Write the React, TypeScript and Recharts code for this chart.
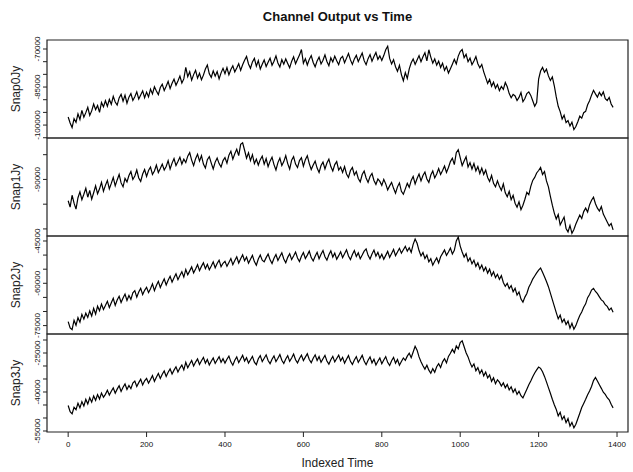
import React from "react";
import { LineChart, Line, XAxis, YAxis, ReferenceArea } from "recharts";

// indexed time, every 5th sample
const TIME = [
  0, 5, 10, 15, 20, 25, 30, 35, 40, 45, 50, 55, 60, 65, 70, 75, 80, 85, 90, 95,
  100, 105, 110, 115, 120, 125, 130, 135, 140, 145, 150, 155, 160, 165, 170, 175, 180, 185, 190, 195,
  200, 205, 210, 215, 220, 225, 230, 235, 240, 245, 250, 255, 260, 265, 270, 275, 280, 285, 290, 295,
  300, 305, 310, 315, 320, 325, 330, 335, 340, 345, 350, 355, 360, 365, 370, 375, 380, 385, 390, 395,
  400, 405, 410, 415, 420, 425, 430, 435, 440, 445, 450, 455, 460, 465, 470, 475, 480, 485, 490, 495,
  500, 505, 510, 515, 520, 525, 530, 535, 540, 545, 550, 555, 560, 565, 570, 575, 580, 585, 590, 595,
  600, 605, 610, 615, 620, 625, 630, 635, 640, 645, 650, 655, 660, 665, 670, 675, 680, 685, 690, 695,
  700, 705, 710, 715, 720, 725, 730, 735, 740, 745, 750, 755, 760, 765, 770, 775, 780, 785, 790, 795,
  800, 805, 810, 815, 820, 825, 830, 835, 840, 845, 850, 855, 860, 865, 870, 875, 880, 885, 890, 895,
  900, 905, 910, 915, 920, 925, 930, 935, 940, 945, 950, 955, 960, 965, 970, 975, 980, 985, 990, 995,
  1000, 1005, 1010, 1015, 1020, 1025, 1030, 1035, 1040, 1045, 1050, 1055, 1060, 1065, 1070, 1075, 1080, 1085, 1090, 1095,
  1100, 1105, 1110, 1115, 1120, 1125, 1130, 1135, 1140, 1145, 1150, 1155, 1160, 1165, 1170, 1175, 1180, 1185, 1190, 1195,
  1200, 1205, 1210, 1215, 1220, 1225, 1230, 1235, 1240, 1245, 1250, 1255, 1260, 1265, 1270, 1275, 1280, 1285, 1290, 1295,
  1300, 1305, 1310, 1315, 1320, 1325, 1330, 1335, 1340, 1345, 1350, 1355, 1360, 1365, 1370, 1375, 1380, 1385, 1390,
];

// channel outputs, in thousands of Jy
const SNAP0_K = [
  -96.8, -99.2, -101.0, -97.5, -98.9, -95.6, -97.8, -94.2, -96.9, -95.1, -93.0, -96.2, -94.4, -91.7, -93.9, -92.3, -95.0, -91.1, -92.8, -90.4,
  -92.6, -89.9, -91.8, -88.7, -90.9, -92.1, -89.3, -87.9, -90.6, -88.2, -91.4, -89.0, -87.6, -90.3, -88.8, -86.9, -89.7, -88.1, -86.5, -89.2,
  -87.0, -88.9, -85.8, -87.7, -84.9, -86.6, -88.0, -85.2, -83.9, -86.4, -84.7, -82.8, -85.6, -83.5, -81.9, -84.3, -82.6, -80.7, -83.4, -81.8,
  -77.2, -80.9, -79.0, -82.3, -80.1, -78.4, -81.5, -79.6, -82.1, -80.3, -77.9, -76.3, -79.8, -81.2, -78.6, -80.7, -78.9, -81.8, -79.4, -77.6,
  -79.7, -77.3, -80.2, -78.1, -76.6, -79.0, -77.5, -75.8, -78.4, -76.2, -74.4, -72.9, -75.9, -77.6, -75.1, -73.7, -76.8, -74.6, -77.9, -76.0,
  -74.3, -76.9, -75.2, -73.6, -76.4, -74.8, -72.7, -75.5, -77.1, -74.2, -76.0, -73.9, -75.7, -77.4, -74.9, -73.1, -75.8, -74.0, -72.4, -70.2,
  -75.6, -73.8, -76.3, -74.1, -72.6, -75.3, -77.0, -74.7, -73.2, -75.9, -74.4, -72.3, -74.9, -76.6, -73.5, -75.1, -72.8, -74.6, -76.2, -73.7,
  -72.9, -75.4, -73.6, -71.8, -74.3, -76.1, -73.9, -72.5, -75.0, -73.3, -71.6, -74.6, -76.2, -73.8, -72.2, -74.8, -73.0, -71.4, -74.1, -72.7,
  -74.5, -72.6, -70.3, -68.9, -73.7, -75.9, -74.2, -77.0, -78.8, -76.4, -80.1, -82.5, -79.3, -81.6, -77.8, -75.4, -73.9, -76.1, -74.3, -72.6,
  -75.0, -73.1, -71.5, -74.7, -70.3, -73.2, -75.6, -73.9, -76.4, -74.8, -77.3, -75.6, -78.4, -76.9, -79.5, -77.8, -76.0, -74.1, -75.9, -72.8,
  -71.0, -70.2, -73.4, -72.1, -75.0, -73.6, -76.2, -74.7, -73.0, -75.8, -77.4, -76.1, -79.0, -81.3, -83.6, -82.0, -84.7, -83.1, -85.5, -84.0,
  -86.4, -84.8, -85.9, -83.2, -84.9, -87.6, -89.2, -87.9, -88.5, -90.3, -89.1, -87.2, -90.8, -89.5, -87.6, -86.9, -88.3, -90.4, -92.6, -91.1,
  -81.9, -78.7, -77.3, -79.2, -78.0, -80.6, -82.4, -81.0, -84.5, -88.9, -92.6, -94.7, -97.6, -96.1, -99.0, -98.2, -100.4, -98.9, -101.8, -100.6,
  -98.7, -96.5, -97.3, -95.1, -94.6, -92.0, -90.4, -88.2, -86.3, -87.7, -89.0, -87.1, -88.4, -86.9, -89.6, -90.3, -89.1, -91.7, -93.0,
];

const SNAP1_K = [
  -94.3, -95.6, -93.2, -94.8, -96.0, -93.7, -92.5, -94.1, -93.0, -91.8, -93.6, -92.2, -94.0, -92.7, -91.3, -92.9, -91.9, -90.6, -92.4, -91.2,
  -90.2, -91.9, -90.8, -89.6, -91.3, -90.1, -89.0, -90.7, -91.5, -89.8, -90.5, -89.2, -88.4, -90.0, -89.3, -88.1, -89.7, -90.4, -88.9, -88.0,
  -89.4, -88.2, -87.5, -89.0, -88.3, -87.1, -88.6, -87.8, -86.9, -88.1, -87.4, -86.2, -87.9, -86.7, -85.8, -87.2, -86.4, -85.5, -86.9, -85.9,
  -86.6, -85.3, -84.6, -86.1, -87.2, -85.8, -84.9, -86.3, -85.2, -86.9, -87.7, -86.0, -85.4, -86.7, -87.9, -86.5, -85.7, -86.8, -87.5, -86.2,
  -85.6, -86.7, -85.1, -84.3, -85.9, -84.8, -83.9, -85.2, -82.9, -82.6, -84.1, -85.7, -84.6, -86.2, -85.0, -86.8, -85.9, -87.1, -86.0, -85.3,
  -86.9, -85.8, -87.4, -86.3, -85.5, -87.0, -88.1, -86.6, -85.7, -87.2, -86.4, -85.2, -86.8, -87.9, -86.1, -85.4, -86.9, -87.6, -86.2, -85.6,
  -87.3, -86.0, -85.2, -86.8, -88.0, -87.1, -86.3, -87.7, -88.6, -87.2, -86.5, -87.9, -86.7, -85.9, -87.4, -88.3, -87.0, -86.4, -88.1, -87.5,
  -88.6, -87.4, -88.9, -89.6, -88.2, -87.6, -89.1, -88.4, -89.8, -90.5, -89.0, -88.3, -89.7, -90.6, -89.4, -88.8, -90.2, -91.0, -89.9, -90.4,
  -91.2, -90.0, -90.9, -92.1, -91.3, -90.6, -91.8, -92.8, -91.5, -90.7, -92.4, -93.0, -91.9, -90.8, -91.6, -90.2, -89.4, -90.9, -89.8, -88.9,
  -90.3, -89.2, -88.5, -89.9, -90.6, -89.1, -88.3, -89.7, -88.9, -87.8, -89.0, -88.2, -87.3, -88.6, -87.6, -86.4, -85.7, -87.0, -84.6, -84.0,
  -85.6, -87.2, -86.3, -85.4, -87.5, -86.6, -87.9, -86.8, -88.3, -87.4, -88.8, -87.7, -89.0, -88.1, -89.6, -90.4, -89.2, -90.8, -91.5, -90.3,
  -91.4, -92.2, -90.9, -92.7, -93.5, -92.4, -94.1, -93.2, -94.8, -95.6, -94.5, -96.1, -95.2, -94.0, -92.6, -93.1, -91.4, -90.2, -89.6, -88.7,
  -88.2, -87.6, -89.0, -88.4, -90.3, -91.5, -93.4, -95.2, -96.8, -98.0, -97.1, -99.2, -98.4, -97.6, -99.9, -100.6, -99.3, -100.9, -100.1, -99.0,
  -98.1, -97.2, -97.9, -96.5, -95.8, -96.6, -95.1, -94.2, -93.6, -94.9, -95.8, -96.4, -95.5, -97.0, -97.8, -98.6, -99.4, -98.9, -100.2,
];

const SNAP2_K = [
  -73.6, -75.8, -76.4, -73.1, -74.9, -72.2, -73.8, -71.0, -72.7, -70.6, -72.1, -69.8, -71.6, -68.9, -70.9, -68.1, -69.7, -67.4, -69.3, -67.9,
  -66.4, -68.6, -66.9, -65.3, -67.8, -65.9, -64.6, -66.8, -65.2, -63.8, -66.1, -64.3, -65.7, -63.4, -62.6, -64.9, -63.1, -61.8, -64.0, -62.5,
  -61.4, -63.3, -61.9, -60.2, -62.6, -60.8, -59.3, -61.5, -59.9, -58.4, -60.6, -58.9, -57.5, -59.6, -58.0, -56.6, -58.7, -57.2, -55.9, -57.8,
  -55.1, -57.0, -55.6, -54.2, -56.3, -54.9, -53.4, -55.5, -54.0, -52.7, -54.8, -53.3, -55.2, -53.9, -52.4, -54.5, -53.0, -51.8, -54.1, -52.9,
  -52.2, -54.0, -52.6, -51.2, -53.4, -51.9, -50.6, -52.8, -51.3, -49.9, -52.0, -50.7, -52.9, -51.5, -50.1, -52.3, -53.6, -51.4, -50.0, -51.8,
  -52.4, -50.9, -49.6, -51.7, -53.0, -51.1, -49.8, -51.9, -50.5, -49.2, -51.4, -52.7, -50.8, -49.5, -51.6, -50.3, -48.9, -51.0, -52.3, -50.4,
  -49.1, -51.2, -50.0, -48.6, -50.9, -52.1, -50.4, -49.0, -51.3, -49.7, -48.4, -50.6, -51.8, -49.9, -48.5, -50.7, -49.3, -51.5, -50.2, -48.8,
  -50.9, -49.5, -48.1, -50.3, -51.6, -49.8, -48.4, -50.5, -49.2, -51.3, -50.0, -48.6, -47.8, -50.1, -51.4, -49.6, -48.2, -50.4, -49.0, -51.1,
  -49.7, -51.5, -50.1, -48.7, -50.8, -49.4, -48.0, -50.2, -48.9, -47.6, -49.3, -48.1, -46.9, -48.6, -47.4, -49.0, -46.2, -44.3, -45.8, -48.4,
  -50.3, -49.1, -51.2, -50.0, -52.4, -51.3, -53.6, -52.2, -51.0, -52.8, -50.6, -49.4, -48.2, -50.1, -48.9, -47.5, -49.6, -48.3, -45.0, -43.6,
  -46.8, -48.9, -50.7, -49.5, -52.2, -51.0, -53.1, -51.8, -54.0, -52.7, -54.9, -53.5, -55.6, -54.3, -56.4, -55.0, -57.3, -55.9, -58.0, -56.8,
  -58.6, -57.3, -59.7, -61.1, -60.0, -61.9, -60.8, -63.0, -61.8, -64.2, -63.1, -65.6, -66.7, -64.9, -63.6, -61.4, -60.1, -58.5, -57.4, -56.3,
  -55.3, -54.6, -56.1, -57.7, -59.4, -61.2, -63.5, -65.8, -68.1, -70.4, -72.6, -71.3, -73.8, -72.7, -74.6, -73.4, -75.9, -74.2, -76.3, -75.0,
  -73.1, -71.4, -70.2, -68.5, -67.3, -65.1, -64.0, -62.4, -61.8, -62.9, -63.7, -64.8, -65.9, -66.4, -67.6, -68.2, -69.5, -68.8, -70.3,
];

const SNAP3_K = [
  -45.2, -47.6, -48.4, -45.9, -46.8, -44.3, -46.1, -43.7, -45.4, -42.8, -44.6, -42.2, -43.9, -41.5, -43.2, -41.0, -42.7, -40.4, -42.0, -40.9,
  -39.3, -41.2, -39.7, -38.4, -40.5, -38.9, -37.6, -39.8, -38.2, -36.9, -39.0, -37.5, -38.7, -36.6, -35.8, -37.9, -36.4, -35.1, -37.3, -35.7,
  -34.8, -36.6, -35.2, -33.7, -35.9, -34.3, -32.9, -34.8, -33.2, -31.9, -34.0, -32.4, -31.1, -33.1, -31.6, -30.3, -32.3, -30.8, -29.6, -31.5,
  -28.6, -30.7, -29.2, -27.9, -30.0, -28.5, -27.3, -29.4, -28.0, -26.7, -28.9, -27.5, -29.6, -28.2, -26.9, -29.0, -27.7, -26.4, -28.6, -27.2,
  -28.9, -27.4, -26.2, -28.4, -29.7, -27.8, -26.5, -28.7, -27.3, -25.9, -28.1, -26.8, -28.9, -27.6, -26.3, -28.5, -29.5, -27.2, -26.0, -28.3,
  -27.0, -25.7, -27.9, -29.1, -27.4, -26.1, -28.3, -27.0, -25.6, -27.8, -29.0, -27.3, -26.0, -28.2, -26.9, -25.4, -27.6, -28.8, -27.1, -25.8,
  -27.9, -26.6, -25.3, -27.5, -28.7, -27.0, -25.7, -27.9, -26.4, -28.6, -27.2, -25.9, -28.1, -29.3, -27.6, -26.3, -28.4, -27.1, -25.8, -28.0,
  -26.7, -28.9, -27.4, -26.0, -28.2, -29.4, -27.7, -26.4, -28.6, -27.3, -25.9, -28.1, -29.5, -27.8, -26.5, -28.8, -27.4, -29.6, -28.2, -26.9,
  -29.1, -27.7, -26.4, -28.6, -29.8, -28.0, -26.7, -28.9, -27.5, -29.7, -28.3, -26.9, -27.8, -26.2, -25.1, -26.8, -24.6, -22.4, -23.9, -26.5,
  -28.4, -29.9, -31.2, -29.7, -31.6, -32.8, -31.0, -32.4, -30.3, -29.1, -30.6, -28.4, -27.2, -28.8, -26.3, -25.1, -23.6, -24.9, -22.3, -23.4,
  -21.0, -20.3, -22.6, -24.9, -26.5, -28.7, -30.4, -29.2, -31.8, -30.6, -32.9, -31.5, -33.8, -32.3, -34.6, -33.4, -35.9, -34.5, -36.8, -35.3,
  -36.2, -37.7, -36.5, -38.4, -37.1, -39.2, -38.0, -40.1, -38.8, -40.9, -39.7, -41.4, -42.3, -40.6, -38.9, -37.2, -35.8, -34.1, -32.7, -31.5,
  -30.4, -30.9, -32.2, -34.0, -36.1, -38.3, -40.5, -42.8, -44.9, -46.7, -49.2, -47.8, -50.6, -49.3, -51.8, -50.2, -53.1, -51.7, -53.8, -52.4,
  -50.3, -48.2, -46.0, -44.4, -42.8, -41.1, -39.6, -37.9, -35.6, -34.4, -35.8, -37.2, -38.6, -40.1, -40.9, -42.2, -43.0, -44.7, -46.1,
];

const X_TICKS = [0, 200, 400, 600, 800, 1000, 1200, 1400];
const X_DOMAIN: [number, number] = [-54, 1428];

const SERIES_NAMES = ["Snap0Jy", "Snap1Jy", "Snap2Jy", "Snap3Jy"];
const SERIES_K = [SNAP0_K, SNAP1_K, SNAP2_K, SNAP3_K];
const Y_DOMAINS: [number, number][] = [
  [-105100, -66450],
  [-101430, -81630],
  [-77980, -43230],
  [-55390, -17690],
];
const Y_TICKS = [
  [-105000, -100000, -95000, -90000, -85000, -80000, -75000, -70000],
  [-100000, -95000, -90000, -85000],
  [-75000, -70000, -65000, -60000, -55000, -50000, -45000],
  [-55000, -50000, -45000, -40000, -35000, -30000, -25000, -20000],
];
const Y_LABELS = [
  [-100000, -85000, -70000],
  [-90000],
  [-75000, -60000, -45000],
  [-55000, -40000, -25000],
];

const FONT = "'Liberation Sans', Arial, Helvetica, sans-serif";
const PANEL_TOP = [40, 138, 236, 334];
const PANEL_H = 98;
const W = 633;

function YTick(props: any) {
  const { x, y, payload, labels } = props;
  if (!labels.includes(payload.value)) return <g />;
  return (
    <text
      x={x}
      y={y}
      transform={`rotate(-90, ${x}, ${y})`}
      textAnchor="middle"
      fontSize={8}
      fontFamily={FONT}
      fill="#111"
    >
      {payload.value}
    </text>
  );
}

function Panel({ idx }: { idx: number }) {
  const last = idx === SERIES_K.length - 1;
  const values = SERIES_K[idx];
  const data = TIME.map((t, i) => ({ t, v: values[i] * 1000 }));
  const domain = Y_DOMAINS[idx];
  const bottomSpace = last ? 40 : 10;
  return (
    <div style={{ position: "absolute", left: 0, top: PANEL_TOP[idx] - 10 }}>
      <LineChart
        width={W}
        height={PANEL_H + 10 + bottomSpace}
        data={data}
        margin={{ top: 10, right: 5, bottom: last ? 0 : 10, left: 0 }}
      >
        <XAxis
          dataKey="t"
          type="number"
          domain={X_DOMAIN}
          allowDataOverflow
          ticks={X_TICKS}
          interval={0}
          hide={!last}
          height={40}
          axisLine={false}
          tickLine={{ stroke: "#222" }}
          tickSize={5}
          tickMargin={4}
          tick={{ fontSize: 8, fontFamily: FONT, fill: "#111" }}
          label={{
            value: "Indexed Time",
            position: "insideBottom",
            offset: 5,
            fontSize: 12,
            fontFamily: FONT,
            fill: "#222",
          }}
        />
        <YAxis
          type="number"
          domain={domain}
          allowDataOverflow
          ticks={Y_TICKS[idx]}
          interval={0}
          width={47}
          axisLine={false}
          tickLine={{ stroke: "#222" }}
          tickSize={4}
          tickMargin={3}
          tick={(p: any) => <YTick {...p} labels={Y_LABELS[idx]} />}
          label={{
            value: SERIES_NAMES[idx],
            angle: -90,
            position: "insideLeft",
            offset: 16,
            fontSize: 12,
            fontFamily: FONT,
            fill: "#222",
            style: { textAnchor: "middle" },
          }}
        />
        <ReferenceArea
          x1={X_DOMAIN[0]}
          x2={X_DOMAIN[1]}
          y1={domain[0]}
          y2={domain[1]}
          fill="none"
          stroke="#222"
          strokeWidth={1.2}
        />
        <Line
          type="linear"
          dataKey="v"
          stroke="#000"
          strokeWidth={1.2}
          dot={false}
          isAnimationActive={false}
        />
      </LineChart>
    </div>
  );
}

export default function App() {
  return (
    <div
      style={{
        position: "absolute",
        left: 0,
        top: 0,
        width: W,
        height: 472,
        background: "#fff",
        overflow: "hidden",
      }}
    >
      <div
        style={{
          position: "absolute",
          left: 47,
          top: 8,
          width: 581,
          textAlign: "center",
          fontFamily: FONT,
          fontWeight: "bold",
          fontSize: 13,
          lineHeight: "18px",
          color: "#111",
        }}
      >
        Channel Output vs Time
      </div>
      {SERIES_K.map((_, i) => (
        <Panel key={SERIES_NAMES[i]} idx={i} />
      ))}
    </div>
  );
}
